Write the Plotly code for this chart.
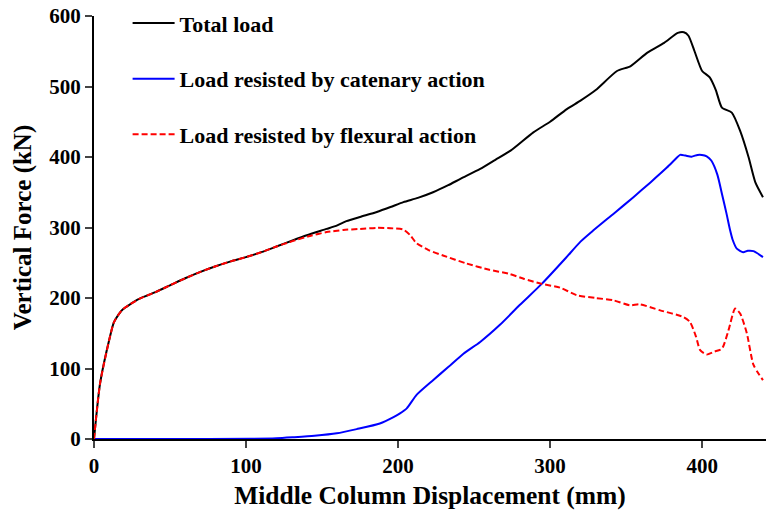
import plotly.graph_objects as go

# Total load
total_x = [0, 4, 10.5, 13, 16, 19, 23, 30, 40, 50, 60, 70, 80, 90, 100, 110, 120, 131, 140, 153, 160, 166,
           175, 186, 195, 203.5, 213, 223, 233, 241, 254, 264, 274, 289, 300, 311, 320, 330, 344, 353,
           364, 375, 384, 388, 391, 395, 400, 405, 409, 413, 419.5, 425, 430.5, 435, 440]
total_y = [0, 79, 145, 165, 176, 184, 190, 199, 208, 218, 228, 237, 245, 252, 258, 265, 273, 282, 289, 298, 303, 309,
           315, 322, 329, 336, 342, 350, 360, 369, 383, 396, 409, 435, 450, 468, 480, 495, 522, 529,
           548, 562, 576, 577, 572, 550, 522, 513, 495, 470, 463, 437, 400, 364, 343]

# Load resisted by catenary action
cat_x = [0, 50, 102.6, 120, 131, 145, 159.7, 172.8, 188, 197, 201, 205.7, 212.3, 223, 233, 243, 254, 267, 280,
         294.5, 310, 320, 328.5, 342, 354.8, 366, 376.8, 382, 385.5, 389, 393, 397, 399.8, 403, 406, 410,
         413, 416, 418.4, 420, 422.8, 427, 430, 433.8, 440]
cat_y = [0, 0, 0.3, 1, 2.4, 4.5, 8, 14, 22, 31, 36, 43.4, 63, 83.5, 102, 121, 137.7, 162, 190,
         220, 256, 280, 296, 320, 343, 364, 385, 396, 403, 402, 400.5, 403, 403, 401, 395, 375,
         348, 320, 296, 283, 270, 265, 267, 266.5, 258]

# Load resisted by flexural action
flex_x = [0, 4, 10.5, 13, 16, 19, 23, 30, 40, 50, 60, 70, 80, 90, 100, 110, 120, 131, 142, 153, 164, 175,
          186, 195, 203.5, 208, 212, 220, 230, 245, 260, 272.6, 283, 294.5, 306.6, 317.5, 330, 341.7,
          352.6, 359, 372.4, 387.7, 392, 396, 398.7, 403, 408, 413, 417.3, 421.7, 425, 429.4, 433.8, 440]
flex_y = [0, 79, 145, 165, 176, 184, 190, 199, 208, 218, 228, 237, 245, 252, 258, 265, 273, 281, 288, 293.5, 296.5, 298,
          299.5, 299, 297, 289, 278, 268, 260, 249, 240, 234.5, 227, 220, 214.6, 204, 200, 196.7,
          189.6, 191, 182.5, 173, 166, 145, 126, 120, 124, 128, 154, 185, 178, 150, 105, 83.5]

x_ticks = [0, 100, 200, 300, 400]
y_ticks = [0, 100, 200, 300, 400, 500, 600]

FONT = "Liberation Serif"

fig = go.Figure()
fig.add_trace(go.Scatter(x=total_x, y=total_y, mode="lines", name="Total load",
                         line=dict(color="black", width=2, shape="spline", smoothing=0.6),
                         legendgroup="a", legendrank=1))
fig.add_trace(go.Scatter(x=cat_x, y=cat_y, mode="lines", name="Load resisted by catenary action",
                         line=dict(color="#0000ff", width=2, shape="spline", smoothing=0.6),
                         legendgroup="b", legendrank=2))
fig.add_trace(go.Scatter(x=flex_x, y=flex_y, mode="lines", name="Load resisted by flexural action",
                         line=dict(color="#ff0000", width=2, dash="6px,3px", shape="spline", smoothing=0.6),
                         legendgroup="c", legendrank=3))

fig.update_layout(
    width=769, height=513,
    margin=dict(l=94, r=3, t=15, b=74),
    paper_bgcolor="white", plot_bgcolor="white",
    font=dict(family=FONT, color="black", size=21, weight="bold"),
    legend=dict(x=0.05, y=1.03, xanchor="left", yanchor="top",
                bgcolor="rgba(0,0,0,0)", font=dict(size=22, family=FONT, weight="bold"),
                tracegroupgap=24, itemwidth=42, traceorder="grouped"),
    xaxis=dict(range=[0, 442], tickvals=x_ticks, ticks="outside", ticklen=7, tickwidth=2,
               showline=True, linewidth=2, linecolor="black", showgrid=False, zeroline=False,
               tickfont=dict(size=21, family=FONT, weight="bold"),
               title=dict(text="Middle Column Displacement (mm)", standoff=9,
                          font=dict(size=25.5, family=FONT, weight="bold"))),
    yaxis=dict(range=[0, 600], tickvals=y_ticks, ticks="outside", ticklen=7, tickwidth=2,
               showline=True, linewidth=2, linecolor="black", showgrid=False, zeroline=False,
               tickfont=dict(size=21, family=FONT, weight="bold"),
               title=dict(text="Vertical Force (kN)", standoff=11,
                          font=dict(size=25, family=FONT, weight="bold"))),
)

fig.write_html("out.html")
